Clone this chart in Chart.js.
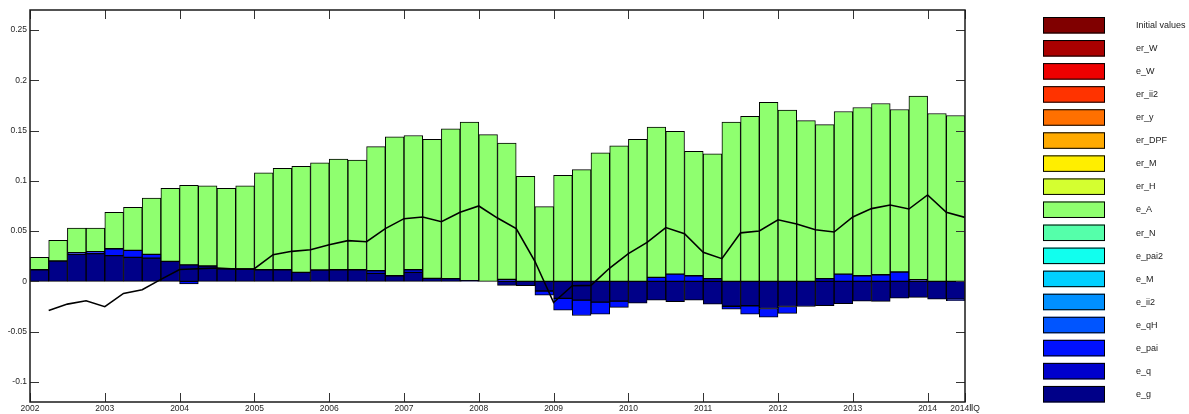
<!DOCTYPE html>
<html>
<head>
<meta charset="utf-8">
<script src="https://cdn.jsdelivr.net/npm/chart.js@4/dist/chart.umd.min.js"></script>
<style>
html,body{margin:0;padding:0;background:#fff;overflow:hidden}
#wrap{width:1189px;height:414px;position:relative}
</style>
</head>
<body>
<div id="wrap"><canvas id="c" width="1189" height="414"></canvas></div>
<script>
// ---- data (quarterly, 2002Q1 .. 2014Q2) ----
const xTickLabels = ['2002','2003','2004','2005','2006','2007','2008','2009','2010','2011','2012','2013','2014','2014ⅡQ'];
const yTickValues = [-0.1,-0.05,0,0.05,0.1,0.15,0.2,0.25];

const e_A = [0.0123,0.0205,0.0246,0.0236,0.0362,0.0428,0.0561,0.0727,0.0791,0.0797,
             0.0800,0.0827,0.0964,0.1009,0.1055,0.1066,0.1102,0.1092,0.1235,0.1382,
             0.1335,0.1384,0.1490,0.1577,0.1460,0.1355,0.1046,0.0744,0.1056,0.1112,
             0.1278,0.1348,0.1414,0.1494,0.1421,0.1239,0.1241,0.1585,0.1643,0.1782,
             0.1704,0.1600,0.1533,0.1617,0.1674,0.1704,0.1617,0.1826,0.1670,0.1650];
const e_g = [0.0116,0.0203,0.0270,0.0276,0.0256,0.0239,0.0232,0.0199,0.0165,0.0153,
             0.0126,0.0123,0.0116,0.0116,0.0090,0.0113,0.0116,0.0116,0.0080,0.0056,
             0.0090,0.0030,0.0027,0.0007,0,-0.0040,-0.0043,-0.0096,-0.0169,-0.0186,
             -0.0206,-0.0196,-0.0216,-0.0186,-0.0203,-0.0186,-0.0226,-0.0247,-0.0242,-0.0270,
             -0.0250,-0.0250,-0.0242,-0.0222,-0.0196,-0.0199,-0.0166,-0.0159,-0.0176,-0.0176];
const e_pai = [0,0,0.0015,0.0019,0.0069,0.0070,0.0037,0,-0.0025,0,
               0,0,0,0,0,0,0,0,0.0026,0,
               0.0026,0,0,0,0,0,0,-0.0040,-0.0117,-0.0153,
               -0.0119,-0.0063,0,0.0040,0.0073,0.0056,0,-0.0030,-0.0083,-0.0087,
               -0.0068,0,0,0.0073,0.0056,0.0066,0.0093,0,0,-0.0017];
const e_q = [0,0,0,0,0,0,0,0,0,0,
             0,0,0,0,0,0,0,0,0,0,
             0,0,0,0,0,0.0020,0,0,0,0,
             0,0,0,0,0,0,0.0027,0,0,0,
             0,0,0.0027,0,0,0,0,0.0017,0,0];
const actual = [-0.0289,-0.0226,-0.0193,-0.0252,-0.0120,-0.0083,0.0020,0.0118,0.0126,0.0133,
                0.0123,0.0126,0.0266,0.0299,0.0315,0.0365,0.0405,0.0395,0.0525,0.0624,
                0.0641,0.0594,0.0687,0.0750,0.0630,0.0525,0.0200,-0.0210,-0.0043,-0.0040,
                0.0133,0.0276,0.0388,0.0535,0.0475,0.0289,0.0226,0.0483,0.0502,0.0613,
                0.0571,0.0514,0.0491,0.0641,0.0724,0.0760,0.0720,0.0860,0.0687,0.0637];

const seriesNames = ['Initial values','er_W','e_W','er_ii2','er_y','er_DPF','er_M','er_H','e_A','er_N','e_pai2','e_M','e_ii2','e_qH','e_pai','e_q','e_g'];
const seriesValues = { e_A: e_A, e_pai: e_pai, e_q: e_q, e_g: e_g };

// ---- styles ----
const seriesColors = ['#800000','#AA0000','#EE0000','#FF3300','#FF7000','#FFAA00','#FFEE00','#D4FF30',
                      '#8FFF6F','#55FFAA','#11FFEE','#00D0FF','#0090FF','#0055FF','#0011FF','#0000CC','#000088'];

const nQ = e_A.length;
const xTickValues = xTickLabels.map((l, i) => i < xTickLabels.length - 1 ? i * 4 : nQ);

Chart.defaults.font.family = '"Liberation Sans", Arial, sans-serif';
Chart.defaults.color = '#262626';

const barSets = seriesNames.slice().reverse().map(name => {
  const vals = seriesValues[name];
  const color = seriesColors[seriesNames.indexOf(name)];
  return {
    type: 'bar',
    label: name,
    stack: 's',
    data: vals ? vals.map((v, i) => ({ x: i + 0.5, y: v === 0 ? null : v })) : [],
    backgroundColor: color,
    borderColor: '#000000',
    borderWidth: 1,
    borderSkipped: false,
    barPercentage: 1,
    categoryPercentage: 1
  };
});

const lineSet = {
  type: 'line',
  label: 'actual',
  data: actual.map((v, i) => ({ x: i + 1, y: v })),
  borderColor: '#000000',
  borderWidth: 1.6,
  pointRadius: 0,
  tension: 0,
  fill: false,
  order: -1
};

const framePlugin = {
  id: 'frame',
  afterDraw(chart) {
    const { ctx, chartArea: a, scales: { x, y } } = chart;
    ctx.save();
    ctx.strokeStyle = '#333333';
    ctx.lineWidth = 1;
    const tl = 9;
    ctx.beginPath();
    x.ticks.forEach(t => {
      const px = Math.round(x.getPixelForValue(t.value)) + 0.5;
      ctx.moveTo(px, a.top); ctx.lineTo(px, a.top + tl);
      ctx.moveTo(px, a.bottom); ctx.lineTo(px, a.bottom - tl);
    });
    y.ticks.forEach(t => {
      const py = Math.round(y.getPixelForValue(t.value)) + 0.5;
      ctx.moveTo(a.left, py); ctx.lineTo(a.left + tl, py);
      ctx.moveTo(a.right, py); ctx.lineTo(a.right - tl, py);
    });
    ctx.stroke();
    ctx.strokeStyle = '#1a1a1a';
    ctx.lineWidth = 1.5;
    ctx.strokeRect(a.left, a.top, a.right - a.left, a.bottom - a.top);

    // legend (MATLAB style, on the right)
    ctx.font = '9px "Liberation Sans", Arial, sans-serif';
    ctx.textBaseline = 'middle';
    ctx.textAlign = 'left';
    seriesNames.forEach((name, i) => {
      const top = 17 + i * 23.06;
      ctx.fillStyle = seriesColors[i];
      ctx.fillRect(1043, top, 62, 16.5);
      ctx.lineWidth = 1;
      ctx.strokeStyle = '#000000';
      ctx.strokeRect(1043.5, top + 0.5, 61, 15.5);
      ctx.fillStyle = '#222222';
      ctx.fillText(name, 1136, top + 8.5);
    });
    ctx.restore();
  }
};

new Chart(document.getElementById('c'), {
  type: 'bar',
  data: { datasets: [lineSet].concat(barSets) },
  options: {
    responsive: false,
    animation: false,
    devicePixelRatio: 1,
    layout: { padding: { top: 10, right: 224, bottom: 0, left: 0 } },
    plugins: { legend: { display: false }, tooltip: { enabled: false } },
    scales: {
      x: {
        type: 'linear',
        min: 0,
        max: nQ,
        offset: false,
        grid: { display: false, drawTicks: false },
        border: { display: false },
        afterBuildTicks: s => { s.ticks = xTickValues.map(v => ({ value: v })); },
        afterFit: s => { s.height = 12; },
        ticks: {
          padding: 2,
          maxRotation: 0,
          autoSkip: false,
          font: { size: 8.5 },
          callback: v => xTickLabels[xTickValues.indexOf(v)]
        }
      },
      y: {
        type: 'linear',
        min: -0.12,
        max: 0.27,
        grid: { display: false, drawTicks: false },
        border: { display: false },
        afterBuildTicks: s => { s.ticks = yTickValues.map(v => ({ value: v })); },
        afterFit: s => { s.width = 30; },
        ticks: {
          padding: 3,
          font: { size: 8.5 },
          callback: v => (Math.abs(v) < 1e-9 ? '0' : String(+v.toFixed(2)))
        }
      }
    }
  },
  plugins: [framePlugin]
});
</script>
</body>
</html>
